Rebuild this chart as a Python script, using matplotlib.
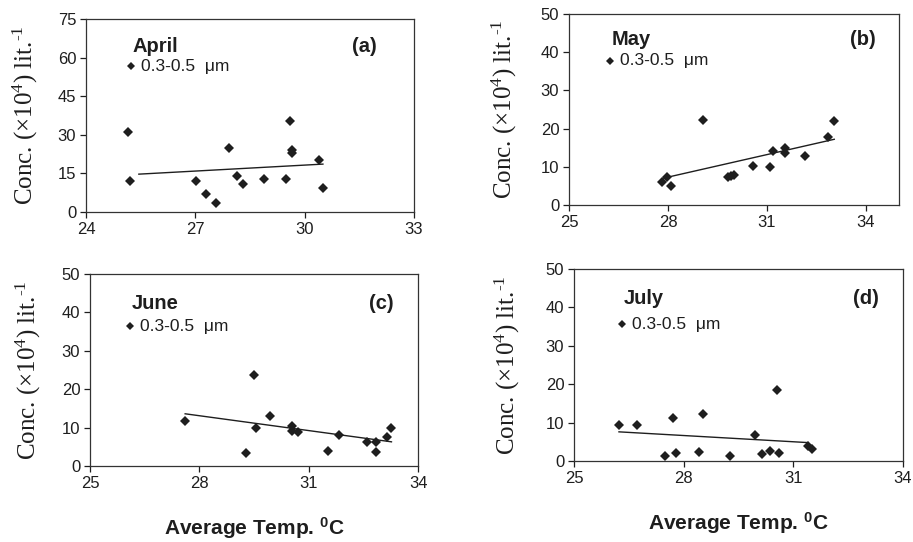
import matplotlib.pyplot as plt

plt.rcParams['font.family'] = ['Liberation Sans', 'DejaVu Sans']
plt.rcParams['mathtext.fontset'] = 'custom'
plt.rcParams['mathtext.rm'] = 'Liberation Serif'
plt.rcParams['mathtext.it'] = 'Liberation Serif:italic'
plt.rcParams['mathtext.bf'] = 'Liberation Sans:bold'

# April (a)
apr_t = [25.16, 25.21, 27.02, 27.28, 27.57, 27.91, 28.15, 28.32, 28.87, 29.49, 29.60, 29.65, 29.65, 30.40, 30.50]
apr_c = [31.0, 12.1, 12.1, 7.0, 3.3, 24.8, 13.9, 10.7, 12.7, 13.0, 35.4, 24.1, 23.0, 20.2, 9.5]
apr_fit_t = [25.45, 30.50]
apr_fit_c = [14.7, 18.6]

# May (b)
may_t = [27.82, 27.97, 28.09, 29.07, 29.82, 29.91, 29.99, 30.57, 31.09, 31.19, 31.55, 31.55, 32.16, 32.84, 33.04]
may_c = [5.9, 7.4, 5.1, 22.3, 7.4, 7.6, 7.9, 10.3, 9.9, 14.2, 14.8, 13.5, 12.7, 17.9, 22.0]
may_fit_t = [27.85, 33.04]
may_fit_c = [7.0, 17.2]

# June (c)
jun_t = [27.61, 29.29, 29.50, 29.55, 29.95, 30.53, 30.53, 30.71, 31.52, 31.82, 32.59, 32.85, 32.85, 33.14, 33.25]
jun_c = [11.8, 3.3, 23.7, 10.0, 13.1, 10.3, 9.2, 8.8, 4.0, 8.1, 6.3, 6.3, 3.6, 7.5, 10.0]
jun_fit_t = [27.61, 33.27]
jun_fit_c = [13.6, 6.3]

# July (d)
jul_t = [26.23, 26.72, 27.48, 27.72, 27.79, 28.41, 28.53, 29.26, 29.95, 30.13, 30.35, 30.54, 30.60, 31.40, 31.51]
jul_c = [9.3, 9.3, 1.3, 11.1, 2.2, 2.4, 12.3, 1.3, 6.9, 1.9, 2.5, 18.5, 2.2, 3.9, 3.1]
jul_fit_t = [26.23, 31.40]
jul_fit_c = [7.6, 4.8]

panels = [
    # rect, data, month, tag, xlim, xticks, ylim, yticks, text pos, ylabel x
    ([0.0942, 0.6089, 0.3593, 0.3561], (apr_t, apr_c, apr_fit_t, apr_fit_c), 'April', '(a)',
     (24, 33), [24, 27, 30, 33], (0, 75), [0, 15, 30, 45, 60, 75], (0.143, 0.855, 0.756, 0.885), -0.14),
    ([0.6232, 0.6218, 0.3614, 0.3524], (may_t, may_c, may_fit_t, may_fit_c), 'May', '(b)',
     (25, 35), [25, 28, 31, 34], (0, 50), [0, 10, 20, 30, 40, 50], (0.13, 0.864, 0.754, 0.93), -0.15),
    ([0.0986, 0.1402, 0.3593, 0.3542], (jun_t, jun_c, jun_fit_t, jun_fit_c), 'June', '(c)',
     (25, 34), [25, 28, 31, 34], (0, 50), [0, 10, 20, 30, 40, 50], (0.128, 0.849, 0.729, 0.927), -0.143),
    ([0.6287, 0.1494, 0.3604, 0.3542], (jul_t, jul_c, jul_fit_t, jul_fit_c), 'July', '(d)',
     (25, 34), [25, 28, 31, 34], (0, 50), [0, 10, 20, 30, 40, 50], (0.152, 0.844, 0.713, 0.926), -0.158),
]

fig = plt.figure(figsize=(9.13, 5.42), dpi=100)
ink = '#1e1e1e'

for i, (rect, (t, c, ft, fc), month, tag, xl, xt, yl, yt, tp, ylx) in enumerate(panels):
    ax = fig.add_axes(rect)
    ax.plot(t, c, 'D', color=ink, markersize=4.6, markeredgewidth=0)
    ax.plot(ft, fc, '-', color=ink, linewidth=1.0)
    ax.set_xlim(*xl)
    ax.set_ylim(*yl)
    ax.set_xticks(xt)
    ax.set_yticks(yt)
    ax.tick_params(direction='out', length=4, width=0.9, labelsize=12, colors=ink, pad=3)
    for s in ax.spines.values():
        s.set_color('#333333')
        s.set_linewidth(0.9)

    ax.text(tp[0], tp[1], month, transform=ax.transAxes, fontsize=14.5, fontweight='bold',
            va='center', ha='left', color=ink)
    ax.text(tp[3], tp[1], tag, transform=ax.transAxes, fontsize=14.5, fontweight='bold',
            va='center', ha='right', color=ink)
    # legend entry
    ax.plot([tp[0] - 0.005], [tp[2]], 'D', color=ink, markersize=4.2, markeredgewidth=0,
            transform=ax.transAxes, clip_on=False)
    ax.text(tp[0] + 0.025, tp[2], '0.3-0.5  \u03bcm', transform=ax.transAxes, fontsize=12.5,
            va='center', ha='left', color=ink)

    ax.set_ylabel('Conc. (\u00d710$^{4}$) lit.$^{\u2010 1}$', family='Liberation Serif',
                  fontsize=18, color=ink)
    ax.yaxis.set_label_coords(ylx, 0.5)
    if i >= 2:
        ax.set_xlabel(r'Average Temp. $^{\mathbf{0}}$C', fontsize=15, fontweight='bold',
                      color=ink, labelpad=18)

fig.savefig('out.png', dpi=100)
